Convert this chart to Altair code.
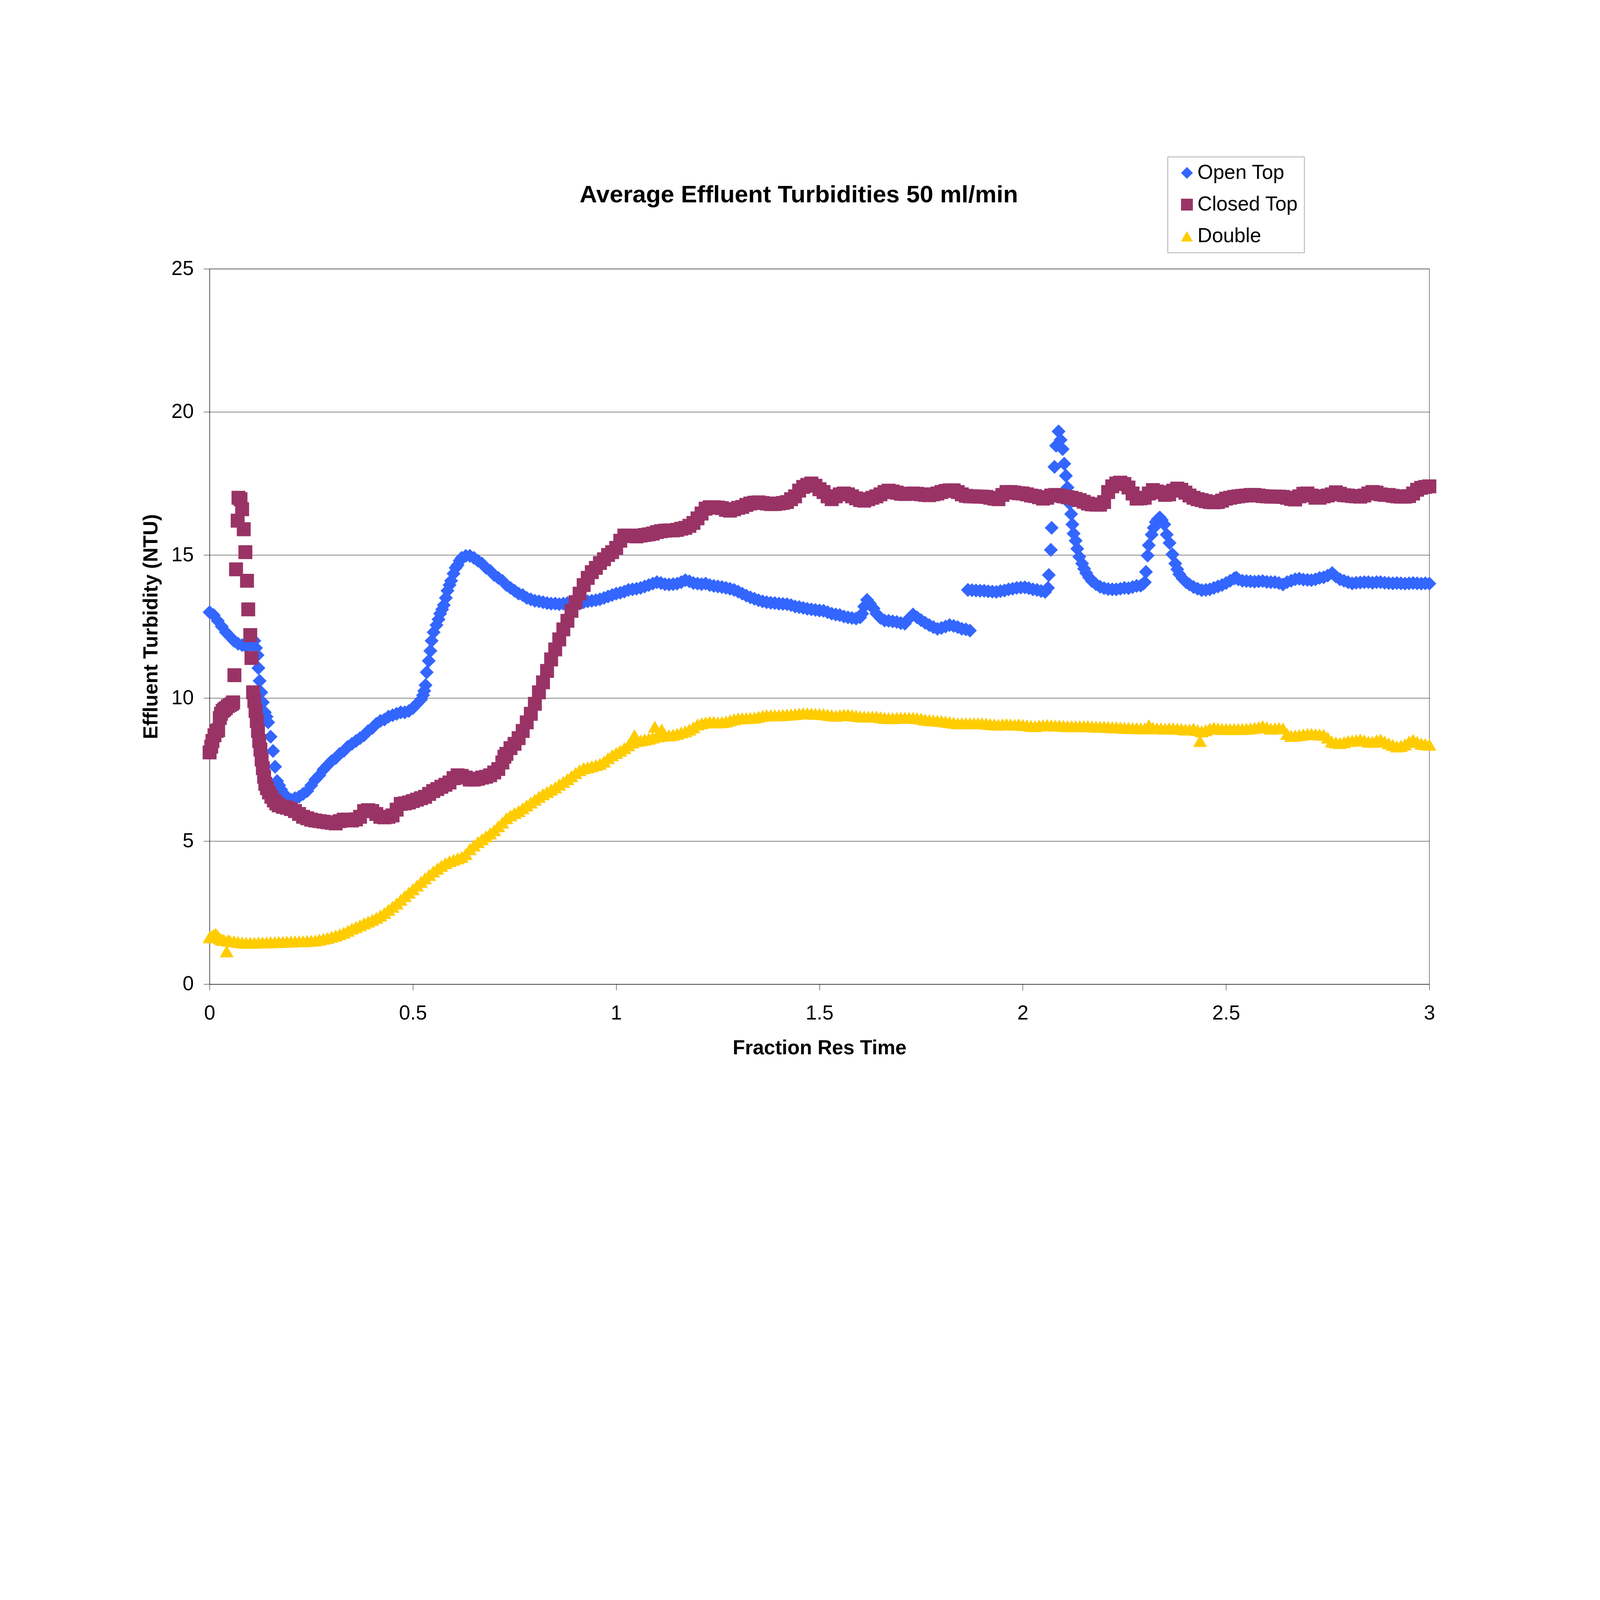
import altair as alt
import pandas as pd

TITLE = "Average Effluent Turbidities 50 ml/min"
X_TITLE = "Fraction Res Time"
Y_TITLE = "Effluent Turbidity (NTU)"
SERIES = ["Open Top", "Closed Top", "Double"]
COLORS = ["#3366FF", "#993366", "#FFCC00"]
SHAPES = ["diamond", "square", "triangle-up"]
X_TICKS = [0, 0.5, 1, 1.5, 2, 2.5, 3]
Y_TICKS = [0, 5, 10, 15, 20, 25]

OPEN_TOP = [
    (0.000, 13.00), (0.010, 12.90), (0.020, 12.70), (0.030, 12.50), (0.040, 12.30), (0.050, 12.15),
    (0.060, 12.00), (0.070, 11.90), (0.080, 11.85), (0.090, 11.80), (0.100, 11.85), (0.105, 11.95),
    (0.110, 12.00), (0.114, 11.75), (0.118, 11.50), (0.120, 11.05), (0.123, 10.60), (0.127, 10.20),
    (0.131, 9.85), (0.136, 9.50), (0.140, 9.35), (0.144, 9.15), (0.150, 8.65), (0.156, 8.15),
    (0.161, 7.60), (0.166, 7.10), (0.171, 6.95), (0.176, 6.80), (0.183, 6.65), (0.190, 6.50),
    (0.200, 6.45), (0.210, 6.50), (0.220, 6.55), (0.230, 6.65), (0.240, 6.75), (0.250, 6.95),
    (0.260, 7.15), (0.270, 7.30), (0.280, 7.50), (0.290, 7.65), (0.300, 7.80), (0.310, 7.90),
    (0.320, 8.05), (0.330, 8.15), (0.340, 8.30), (0.350, 8.40), (0.360, 8.50), (0.370, 8.60),
    (0.380, 8.70), (0.390, 8.85), (0.400, 8.95), (0.410, 9.10), (0.420, 9.20), (0.430, 9.25),
    (0.440, 9.35), (0.450, 9.40), (0.460, 9.45), (0.470, 9.50), (0.480, 9.50), (0.490, 9.55),
    (0.500, 9.65), (0.510, 9.80), (0.520, 9.95), (0.525, 10.10), (0.528, 10.25), (0.531, 10.45),
    (0.534, 10.90), (0.539, 11.30), (0.543, 11.65), (0.546, 12.00), (0.551, 12.30), (0.558, 12.55),
    (0.563, 12.75), (0.567, 12.95), (0.572, 13.10), (0.576, 13.25), (0.581, 13.50), (0.585, 13.75),
    (0.590, 13.95), (0.594, 14.10), (0.600, 14.35), (0.605, 14.55), (0.610, 14.65), (0.615, 14.80),
    (0.620, 14.90), (0.630, 14.97), (0.640, 14.97), (0.650, 14.90), (0.660, 14.80), (0.670, 14.70),
    (0.680, 14.55), (0.690, 14.45), (0.700, 14.30), (0.710, 14.20), (0.720, 14.10), (0.730, 13.95),
    (0.740, 13.85), (0.750, 13.75), (0.760, 13.65), (0.770, 13.60), (0.780, 13.50), (0.790, 13.45),
    (0.800, 13.40), (0.810, 13.38), (0.820, 13.35), (0.830, 13.32), (0.840, 13.30), (0.850, 13.30),
    (0.860, 13.28), (0.870, 13.30), (0.880, 13.32), (0.890, 13.35), (0.900, 13.32), (0.910, 13.30),
    (0.920, 13.35), (0.930, 13.38), (0.940, 13.40), (0.950, 13.42), (0.960, 13.45), (0.970, 13.50),
    (0.980, 13.55), (0.990, 13.60), (1.000, 13.65), (1.010, 13.68), (1.020, 13.72), (1.030, 13.78),
    (1.040, 13.80), (1.050, 13.82), (1.060, 13.85), (1.070, 13.90), (1.080, 13.95), (1.090, 14.00),
    (1.100, 14.05), (1.110, 14.02), (1.120, 13.98), (1.130, 13.97), (1.140, 13.98), (1.150, 14.00),
    (1.160, 14.05), (1.170, 14.12), (1.180, 14.08), (1.190, 14.02), (1.200, 14.00), (1.210, 13.98),
    (1.220, 14.00), (1.230, 13.95), (1.240, 13.92), (1.250, 13.90), (1.260, 13.88), (1.270, 13.85),
    (1.280, 13.82), (1.290, 13.78), (1.300, 13.72), (1.310, 13.65), (1.320, 13.58), (1.330, 13.52),
    (1.340, 13.47), (1.350, 13.42), (1.360, 13.38), (1.370, 13.35), (1.380, 13.33), (1.390, 13.32),
    (1.400, 13.30), (1.410, 13.29), (1.420, 13.28), (1.430, 13.25), (1.440, 13.20), (1.450, 13.18),
    (1.460, 13.15), (1.470, 13.12), (1.480, 13.10), (1.490, 13.08), (1.500, 13.06), (1.510, 13.05),
    (1.520, 13.00), (1.530, 12.95), (1.540, 12.92), (1.550, 12.90), (1.560, 12.85), (1.570, 12.82),
    (1.580, 12.80), (1.590, 12.78), (1.600, 12.82), (1.605, 12.95), (1.610, 13.20), (1.617, 13.43),
    (1.624, 13.30), (1.633, 13.13), (1.640, 12.95), (1.650, 12.80), (1.660, 12.71), (1.670, 12.70),
    (1.680, 12.68), (1.690, 12.66), (1.700, 12.62), (1.710, 12.60), (1.720, 12.78), (1.730, 12.92),
    (1.740, 12.82), (1.750, 12.72), (1.760, 12.63), (1.770, 12.55), (1.780, 12.48), (1.790, 12.42),
    (1.800, 12.45), (1.810, 12.50), (1.820, 12.55), (1.830, 12.52), (1.840, 12.48), (1.850, 12.42),
    (1.860, 12.40), (1.870, 12.36),
    (1.865, 13.78), (1.875, 13.77), (1.885, 13.76), (1.895, 13.75), (1.905, 13.75), (1.915, 13.73),
    (1.925, 13.72), (1.935, 13.71), (1.945, 13.74), (1.955, 13.76), (1.965, 13.80), (1.975, 13.82),
    (1.985, 13.85), (1.995, 13.86), (2.005, 13.87), (2.015, 13.84), (2.025, 13.80), (2.035, 13.78),
    (2.045, 13.74), (2.055, 13.71), (2.062, 13.85), (2.064, 14.30), (2.069, 15.18), (2.071, 15.95),
    (2.078, 18.08), (2.082, 18.82), (2.088, 19.32), (2.093, 19.02), (2.098, 18.70), (2.102, 18.19),
    (2.106, 17.77), (2.110, 17.36), (2.115, 16.80), (2.119, 16.43), (2.122, 16.07), (2.125, 15.75),
    (2.130, 15.50), (2.134, 15.22), (2.139, 14.94), (2.146, 14.70), (2.151, 14.52), (2.156, 14.37),
    (2.163, 14.22), (2.170, 14.09), (2.180, 13.98), (2.190, 13.89), (2.200, 13.84), (2.210, 13.81),
    (2.220, 13.80), (2.230, 13.80), (2.240, 13.82), (2.250, 13.85), (2.260, 13.84), (2.270, 13.88),
    (2.280, 13.92), (2.290, 13.93), (2.297, 14.00), (2.300, 14.05), (2.303, 14.41), (2.307, 14.98),
    (2.310, 15.34), (2.317, 15.71), (2.322, 15.95), (2.327, 16.15), (2.332, 16.25), (2.337, 16.31),
    (2.342, 16.22), (2.348, 16.07), (2.354, 15.71), (2.361, 15.42), (2.368, 15.02), (2.375, 14.70),
    (2.380, 14.50), (2.385, 14.33), (2.393, 14.18), (2.402, 14.05), (2.410, 13.97), (2.420, 13.88),
    (2.430, 13.82), (2.440, 13.77), (2.450, 13.78), (2.460, 13.80), (2.470, 13.85), (2.480, 13.90),
    (2.490, 13.95), (2.500, 14.02), (2.510, 14.10), (2.520, 14.18), (2.525, 14.21), (2.530, 14.15),
    (2.540, 14.10), (2.550, 14.09), (2.560, 14.08), (2.570, 14.07), (2.580, 14.08), (2.590, 14.09),
    (2.600, 14.06), (2.610, 14.05), (2.620, 14.05), (2.630, 14.02), (2.640, 13.97), (2.650, 14.05),
    (2.660, 14.10), (2.670, 14.15), (2.680, 14.17), (2.690, 14.14), (2.700, 14.13), (2.710, 14.12),
    (2.720, 14.15), (2.730, 14.20), (2.740, 14.22), (2.750, 14.28), (2.761, 14.37), (2.770, 14.25),
    (2.780, 14.15), (2.790, 14.10), (2.800, 14.05), (2.810, 14.01), (2.820, 14.03), (2.830, 14.04),
    (2.840, 14.05), (2.850, 14.05), (2.860, 14.03), (2.870, 14.05), (2.880, 14.05), (2.890, 14.03),
    (2.900, 14.02), (2.910, 14.01), (2.920, 14.02), (2.930, 14.01), (2.940, 14.00), (2.950, 14.01),
    (2.960, 14.02), (2.970, 14.01), (2.980, 14.00), (2.990, 14.01), (3.000, 14.00),
]

CLOSED_TOP = [
    (0.000, 8.10), (0.004, 8.30), (0.007, 8.50), (0.012, 8.70), (0.017, 8.85), (0.021, 8.88),
    (0.025, 9.30), (0.028, 9.45), (0.032, 9.55), (0.036, 9.60), (0.040, 9.65), (0.045, 9.72),
    (0.050, 9.76), (0.055, 9.80), (0.058, 9.85), (0.061, 10.80), (0.065, 14.50), (0.069, 16.20),
    (0.071, 17.00), (0.076, 16.95), (0.080, 16.60), (0.084, 15.90), (0.088, 15.10), (0.092, 14.10),
    (0.095, 13.10), (0.100, 12.20), (0.103, 11.40), (0.107, 10.20), (0.110, 9.90), (0.113, 9.55),
    (0.116, 9.20), (0.119, 8.85), (0.122, 8.50), (0.125, 8.20), (0.128, 7.85), (0.131, 7.55),
    (0.134, 7.25), (0.137, 7.00), (0.141, 6.85), (0.146, 6.70), (0.152, 6.55), (0.158, 6.42),
    (0.164, 6.32), (0.170, 6.25), (0.180, 6.20), (0.190, 6.17), (0.200, 6.12), (0.210, 6.05),
    (0.220, 5.95), (0.230, 5.85), (0.240, 5.80), (0.250, 5.75), (0.260, 5.72), (0.270, 5.70),
    (0.280, 5.68), (0.290, 5.66), (0.300, 5.64), (0.310, 5.62), (0.320, 5.70), (0.330, 5.75),
    (0.340, 5.75), (0.350, 5.72), (0.360, 5.76), (0.370, 5.85), (0.380, 6.05), (0.390, 6.08),
    (0.400, 6.05), (0.410, 5.95), (0.420, 5.85), (0.430, 5.83), (0.440, 5.85), (0.450, 5.90),
    (0.460, 6.10), (0.470, 6.30), (0.480, 6.32), (0.490, 6.35), (0.500, 6.40), (0.510, 6.45),
    (0.520, 6.50), (0.530, 6.55), (0.540, 6.65), (0.550, 6.75), (0.560, 6.82), (0.570, 6.90),
    (0.580, 6.97), (0.590, 7.05), (0.600, 7.20), (0.610, 7.30), (0.620, 7.28), (0.630, 7.22),
    (0.640, 7.15), (0.650, 7.15), (0.660, 7.18), (0.670, 7.22), (0.680, 7.25), (0.690, 7.30),
    (0.700, 7.40), (0.710, 7.52), (0.720, 7.75), (0.725, 7.95), (0.730, 8.05), (0.740, 8.25),
    (0.750, 8.40), (0.760, 8.60), (0.770, 8.85), (0.780, 9.15), (0.790, 9.45), (0.800, 9.80),
    (0.810, 10.20), (0.820, 10.55), (0.830, 10.95), (0.840, 11.35), (0.850, 11.70), (0.860, 12.05),
    (0.870, 12.40), (0.880, 12.70), (0.890, 13.05), (0.900, 13.35), (0.910, 13.65), (0.920, 13.95),
    (0.930, 14.20), (0.940, 14.40), (0.950, 14.55), (0.960, 14.72), (0.970, 14.85), (0.980, 15.00),
    (0.990, 15.10), (1.000, 15.25), (1.010, 15.50), (1.020, 15.68), (1.030, 15.68), (1.040, 15.66),
    (1.050, 15.65), (1.060, 15.68), (1.070, 15.70), (1.080, 15.72), (1.090, 15.75), (1.100, 15.80),
    (1.110, 15.83), (1.120, 15.85), (1.130, 15.86), (1.140, 15.86), (1.150, 15.88), (1.160, 15.92),
    (1.170, 15.95), (1.180, 16.02), (1.190, 16.12), (1.200, 16.28), (1.210, 16.45), (1.220, 16.62),
    (1.230, 16.67), (1.240, 16.67), (1.250, 16.66), (1.260, 16.64), (1.270, 16.58), (1.280, 16.55),
    (1.290, 16.60), (1.300, 16.65), (1.310, 16.68), (1.320, 16.75), (1.330, 16.80), (1.340, 16.83),
    (1.350, 16.84), (1.360, 16.82), (1.370, 16.80), (1.380, 16.78), (1.390, 16.78), (1.400, 16.80),
    (1.410, 16.82), (1.420, 16.85), (1.430, 16.95), (1.440, 17.05), (1.450, 17.25), (1.460, 17.38),
    (1.470, 17.45), (1.480, 17.50), (1.490, 17.42), (1.500, 17.30), (1.510, 17.20), (1.520, 17.05),
    (1.530, 16.95), (1.540, 17.05), (1.550, 17.12), (1.560, 17.15), (1.570, 17.12), (1.580, 17.05),
    (1.590, 16.98), (1.600, 16.92), (1.610, 16.90), (1.620, 16.95), (1.630, 17.00), (1.640, 17.05),
    (1.650, 17.12), (1.660, 17.20), (1.670, 17.25), (1.680, 17.22), (1.690, 17.18), (1.700, 17.14),
    (1.710, 17.13), (1.720, 17.14), (1.730, 17.15), (1.740, 17.14), (1.750, 17.12), (1.760, 17.10),
    (1.770, 17.09), (1.780, 17.12), (1.790, 17.15), (1.800, 17.20), (1.810, 17.24), (1.820, 17.26),
    (1.830, 17.26), (1.840, 17.20), (1.850, 17.12), (1.860, 17.07), (1.870, 17.05), (1.880, 17.05),
    (1.890, 17.04), (1.900, 17.04), (1.910, 17.03), (1.920, 17.00), (1.930, 16.97), (1.940, 16.95),
    (1.950, 17.10), (1.960, 17.20), (1.970, 17.20), (1.980, 17.18), (1.990, 17.16), (2.000, 17.15),
    (2.010, 17.12), (2.020, 17.08), (2.030, 17.06), (2.040, 17.02), (2.050, 16.97), (2.060, 17.00),
    (2.070, 17.08), (2.080, 17.10), (2.090, 17.08), (2.100, 17.05), (2.110, 17.02), (2.120, 17.00),
    (2.130, 16.96), (2.140, 16.92), (2.150, 16.86), (2.160, 16.80), (2.170, 16.77), (2.180, 16.76),
    (2.190, 16.76), (2.200, 16.85), (2.210, 17.20), (2.220, 17.40), (2.230, 17.50), (2.240, 17.53),
    (2.250, 17.48), (2.260, 17.36), (2.270, 17.15), (2.280, 16.97), (2.290, 16.98), (2.300, 17.00),
    (2.310, 17.15), (2.320, 17.27), (2.330, 17.22), (2.340, 17.19), (2.350, 17.10), (2.360, 17.12),
    (2.370, 17.25), (2.380, 17.32), (2.390, 17.28), (2.400, 17.18), (2.410, 17.08), (2.420, 17.00),
    (2.430, 16.95), (2.440, 16.92), (2.450, 16.88), (2.460, 16.85), (2.470, 16.84), (2.480, 16.85),
    (2.490, 16.90), (2.500, 16.97), (2.510, 17.00), (2.520, 17.03), (2.530, 17.05), (2.540, 17.07),
    (2.550, 17.08), (2.560, 17.10), (2.570, 17.10), (2.580, 17.08), (2.590, 17.06), (2.600, 17.05),
    (2.610, 17.04), (2.620, 17.04), (2.630, 17.04), (2.640, 17.03), (2.650, 17.00), (2.660, 16.96),
    (2.670, 16.94), (2.680, 17.05), (2.690, 17.14), (2.700, 17.15), (2.710, 17.08), (2.720, 17.00),
    (2.730, 17.00), (2.740, 17.05), (2.750, 17.08), (2.760, 17.12), (2.770, 17.19), (2.780, 17.14),
    (2.790, 17.09), (2.800, 17.08), (2.810, 17.06), (2.820, 17.05), (2.830, 17.04), (2.840, 17.08),
    (2.850, 17.15), (2.860, 17.20), (2.870, 17.18), (2.880, 17.12), (2.890, 17.10), (2.900, 17.10),
    (2.910, 17.07), (2.920, 17.05), (2.930, 17.04), (2.940, 17.04), (2.950, 17.06), (2.960, 17.15),
    (2.970, 17.28), (2.980, 17.35), (2.990, 17.38), (3.000, 17.40),
]

DOUBLE = [
    (0.000, 1.64), (0.005, 1.68), (0.010, 1.72), (0.015, 1.76), (0.020, 1.68), (0.025, 1.60),
    (0.030, 1.56), (0.035, 1.55), (0.042, 1.15), (0.045, 1.53), (0.050, 1.52), (0.060, 1.50),
    (0.070, 1.48), (0.080, 1.46), (0.090, 1.45), (0.100, 1.45), (0.110, 1.45), (0.120, 1.46),
    (0.130, 1.46), (0.140, 1.46), (0.150, 1.47), (0.160, 1.47), (0.170, 1.48), (0.180, 1.48),
    (0.190, 1.49), (0.200, 1.49), (0.210, 1.50), (0.220, 1.50), (0.230, 1.50), (0.240, 1.51),
    (0.250, 1.52), (0.260, 1.53), (0.270, 1.56), (0.280, 1.59), (0.290, 1.62), (0.300, 1.66),
    (0.310, 1.70), (0.320, 1.75), (0.330, 1.80), (0.340, 1.87), (0.350, 1.94), (0.360, 2.00),
    (0.370, 2.06), (0.380, 2.13), (0.390, 2.19), (0.400, 2.25), (0.410, 2.32), (0.420, 2.40),
    (0.430, 2.49), (0.440, 2.60), (0.450, 2.71), (0.460, 2.82), (0.470, 2.95), (0.480, 3.08),
    (0.490, 3.20), (0.500, 3.32), (0.510, 3.45), (0.520, 3.58), (0.530, 3.70), (0.540, 3.82),
    (0.550, 3.94), (0.560, 4.04), (0.570, 4.14), (0.580, 4.23), (0.590, 4.30), (0.600, 4.35),
    (0.610, 4.40), (0.620, 4.45), (0.630, 4.55), (0.640, 4.72), (0.650, 4.85), (0.660, 4.97),
    (0.670, 5.07), (0.680, 5.17), (0.690, 5.27), (0.700, 5.38), (0.710, 5.52), (0.720, 5.65),
    (0.730, 5.80), (0.740, 5.90), (0.750, 5.98), (0.760, 6.05), (0.770, 6.15), (0.780, 6.25),
    (0.790, 6.35), (0.800, 6.45), (0.810, 6.55), (0.820, 6.64), (0.830, 6.72), (0.840, 6.80),
    (0.850, 6.88), (0.860, 6.98), (0.870, 7.07), (0.880, 7.17), (0.890, 7.27), (0.900, 7.38),
    (0.910, 7.48), (0.920, 7.55), (0.930, 7.58), (0.940, 7.62), (0.950, 7.66), (0.960, 7.70),
    (0.970, 7.78), (0.980, 7.90), (0.990, 8.00), (1.000, 8.08), (1.010, 8.16), (1.020, 8.25),
    (1.030, 8.35), (1.040, 8.45), (1.045, 8.70), (1.050, 8.50), (1.060, 8.52), (1.070, 8.55),
    (1.080, 8.58), (1.090, 8.62), (1.095, 9.00), (1.100, 8.66), (1.110, 8.68), (1.112, 8.90),
    (1.120, 8.70), (1.130, 8.70), (1.140, 8.72), (1.150, 8.75), (1.160, 8.80), (1.170, 8.84),
    (1.180, 8.90), (1.190, 8.98), (1.200, 9.08), (1.210, 9.12), (1.220, 9.15), (1.230, 9.17),
    (1.240, 9.17), (1.250, 9.15), (1.260, 9.16), (1.270, 9.18), (1.280, 9.22), (1.290, 9.26),
    (1.300, 9.29), (1.310, 9.30), (1.320, 9.30), (1.330, 9.31), (1.340, 9.32), (1.350, 9.35),
    (1.360, 9.38), (1.370, 9.40), (1.380, 9.40), (1.390, 9.40), (1.400, 9.40), (1.410, 9.41),
    (1.420, 9.42), (1.430, 9.43), (1.440, 9.44), (1.450, 9.46), (1.460, 9.47), (1.470, 9.47),
    (1.480, 9.46), (1.490, 9.45), (1.500, 9.45), (1.510, 9.44), (1.520, 9.42), (1.530, 9.40),
    (1.540, 9.38), (1.550, 9.40), (1.560, 9.42), (1.570, 9.42), (1.580, 9.40), (1.590, 9.38),
    (1.600, 9.36), (1.610, 9.35), (1.620, 9.35), (1.630, 9.35), (1.640, 9.35), (1.650, 9.33),
    (1.660, 9.31), (1.670, 9.30), (1.680, 9.30), (1.690, 9.31), (1.700, 9.31), (1.710, 9.31),
    (1.720, 9.31), (1.730, 9.31), (1.740, 9.30), (1.750, 9.28), (1.760, 9.25), (1.770, 9.23),
    (1.780, 9.22), (1.790, 9.21), (1.800, 9.20), (1.810, 9.18), (1.820, 9.16), (1.830, 9.14),
    (1.840, 9.12), (1.850, 9.12), (1.860, 9.12), (1.870, 9.12), (1.880, 9.12), (1.890, 9.12),
    (1.900, 9.12), (1.910, 9.11), (1.920, 9.09), (1.930, 9.08), (1.940, 9.07), (1.950, 9.08),
    (1.960, 9.09), (1.970, 9.08), (1.980, 9.07), (1.990, 9.08), (2.000, 9.06), (2.010, 9.05),
    (2.020, 9.03), (2.030, 9.02), (2.040, 9.04), (2.050, 9.05), (2.060, 9.06), (2.070, 9.05),
    (2.080, 9.04), (2.090, 9.04), (2.100, 9.03), (2.110, 9.02), (2.120, 9.02), (2.130, 9.02),
    (2.140, 9.02), (2.150, 9.02), (2.160, 9.02), (2.170, 9.01), (2.180, 9.00), (2.190, 9.00),
    (2.200, 9.00), (2.210, 8.99), (2.220, 8.98), (2.230, 8.98), (2.240, 8.97), (2.250, 8.96),
    (2.260, 8.96), (2.270, 8.95), (2.280, 8.95), (2.290, 8.94), (2.300, 8.94), (2.310, 9.05),
    (2.320, 8.96), (2.330, 8.94), (2.340, 8.94), (2.350, 8.93), (2.360, 8.94), (2.370, 8.94),
    (2.380, 8.93), (2.390, 8.92), (2.400, 8.90), (2.410, 8.90), (2.420, 8.93), (2.430, 8.88),
    (2.436, 8.50), (2.440, 8.84), (2.450, 8.88), (2.460, 8.93), (2.470, 8.96), (2.480, 8.94),
    (2.490, 8.92), (2.500, 8.92), (2.510, 8.92), (2.520, 8.92), (2.530, 8.92), (2.540, 8.92),
    (2.550, 8.93), (2.560, 8.94), (2.570, 8.96), (2.580, 8.98), (2.590, 9.02), (2.600, 8.98),
    (2.610, 8.93), (2.620, 8.94), (2.630, 8.95), (2.640, 8.94), (2.650, 8.75), (2.660, 8.68),
    (2.670, 8.69), (2.680, 8.71), (2.690, 8.73), (2.700, 8.75), (2.710, 8.75), (2.720, 8.74),
    (2.730, 8.73), (2.740, 8.72), (2.750, 8.62), (2.760, 8.48), (2.770, 8.45), (2.780, 8.43),
    (2.790, 8.46), (2.800, 8.50), (2.810, 8.51), (2.820, 8.53), (2.830, 8.55), (2.840, 8.52),
    (2.850, 8.48), (2.860, 8.47), (2.870, 8.52), (2.880, 8.55), (2.890, 8.48), (2.900, 8.42),
    (2.910, 8.36), (2.920, 8.31), (2.930, 8.33), (2.940, 8.38), (2.950, 8.48), (2.960, 8.54),
    (2.970, 8.47), (2.980, 8.41), (2.990, 8.39), (3.000, 8.37),
]

rows = []
for name, pts in zip(SERIES, [OPEN_TOP, CLOSED_TOP, DOUBLE]):
    for xv, yv in pts:
        rows.append({"series": name, "x": xv, "y": yv})
df = pd.DataFrame(rows)
df["order"] = range(len(df))

FONT = "Liberation Sans"
W, H = 5039, 2955

legend = alt.Legend(
    title=None, orient="none", legendX=3958, legendY=-463, direction="vertical",
    padding=25, symbolSize=2400, symbolOffset=13, labelOffset=2, rowPadding=47,
    labelFontSize=83, labelFont=FONT, labelColor="black", labelLimit=2000,
    strokeColor="black", fillColor="white", symbolStrokeWidth=0, symbolOpacity=1,
)

points = alt.Chart(df).mark_point(filled=True, size=3300, opacity=1, strokeWidth=0).encode(
    x=alt.X(
        "x:Q",
        scale=alt.Scale(domain=[0, 3], nice=False, zero=False),
        axis=alt.Axis(
            values=X_TICKS, title=X_TITLE, labelExpr="'' + datum.value", grid=False,
            tickSize=25, labelPadding=54, labelFlush=False, labelOverlap=False,
            titleY=289, titleBaseline="alphabetic",
        ),
    ),
    y=alt.Y(
        "y:Q",
        scale=alt.Scale(domain=[0, 25], nice=False),
        axis=alt.Axis(
            values=Y_TICKS, title=Y_TITLE, grid=True, tickSize=25, labelPadding=41,
            labelFlush=False, labelOverlap=False,
            titleX=-216, titleY=H / 2, titleAngle=270, titleBaseline="alphabetic", titleAlign="center",
        ),
    ),
    color=alt.Color("series:N", scale=alt.Scale(domain=SERIES, range=COLORS), legend=legend),
    shape=alt.Shape("series:N", scale=alt.Scale(domain=SERIES, range=SHAPES), legend=legend),
    order=alt.Order("order:Q"),
)

title_df = pd.DataFrame({"t": [TITLE]})
title = alt.Chart(title_df).mark_text(
    font=FONT, fontSize=100, fontWeight="bold", align="center", baseline="alphabetic", color="black"
).encode(text="t:N", x=alt.value(2434), y=alt.value(-275))

chart = alt.layer(points, title).properties(
    width=W, height=H,
    autosize=alt.AutoSizeParams(type="none"),
    padding={"left": 853, "top": 119, "right": 692, "bottom": 116},
    background="white",
).configure_view(
    stroke="black", strokeWidth=1.5, fill="white"
).configure_axis(
    labelFont=FONT, labelFontSize=83, labelColor="black",
    titleFont=FONT, titleFontSize=83, titleFontWeight="bold", titleColor="black",
    domainColor="black", domainWidth=1.5, tickColor="black", tickWidth=1.5,
    gridColor="black", gridWidth=1.5, gridOpacity=1,
)

chart.save("out.html", embed_options={"renderer": "svg", "actions": False})
